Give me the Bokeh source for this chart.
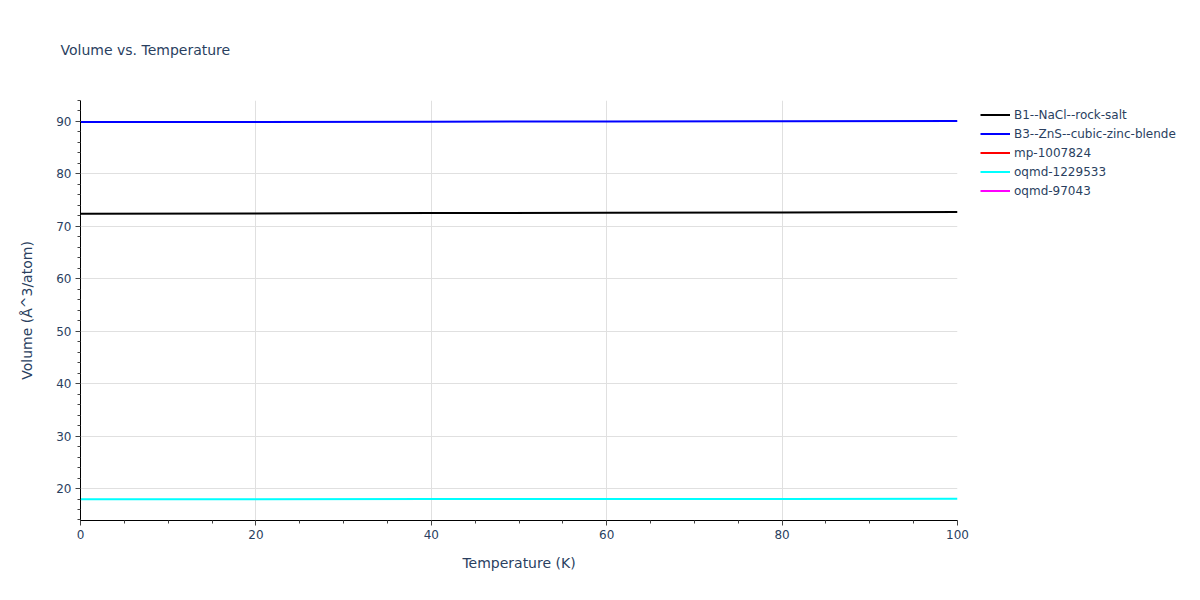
from bokeh.plotting import figure
from bokeh.models import Legend, SingleIntervalTicker, Range1d
from bokeh.embed import file_html
from bokeh.resources import INLINE

nan = float("nan")

# ---- data ----
temperature = [0, 20, 40, 60, 80, 100]
b1_nacl_rock_salt = [72.40, 72.47, 72.53, 72.60, 72.66, 72.73]
b3_zns_zinc_blende = [89.88, 89.92, 89.96, 89.99, 90.03, 90.07]
mp_1007824 = [nan]          # not visible in the plotted range
oqmd_1229533 = [17.96, 17.97, 17.99, 18.00, 18.02, 18.03]
oqmd_97043 = [nan]          # not visible in the plotted range

series_names = ["B1--NaCl--rock-salt", "B3--ZnS--cubic-zinc-blende",
                "mp-1007824", "oqmd-1229533", "oqmd-97043"]
series_colors = ["black", "blue", "red", "cyan", "magenta"]

FONT = "DejaVu Sans"
TXT = "#2a3f5f"

p = figure(frame_width=877, frame_height=420, output_backend="svg",
           toolbar_location=None,
           x_range=Range1d(0, 100), y_range=Range1d(13.9, 94.0),
           min_border_left=80, min_border_right=243, min_border_top=100,
           min_border_bottom=80)
p.outline_line_color = None
p.background_fill_color = "white"
p.border_fill_color = "white"

p.title.text = "Volume vs. Temperature"
p.title.align = "left"
p.title.vertical_align = "top"
p.title.offset = -20
p.title.standoff = 82
p.title.text_font = FONT
p.title.text_font_size = "14px"
p.title.text_font_style = "normal"
p.title.text_color = TXT

ys_list = [b1_nacl_rock_salt, b3_zns_zinc_blende, mp_1007824, oqmd_1229533, oqmd_97043]
renderers = []
for name, color, ys in zip(series_names, series_colors, ys_list):
    xs = temperature[:len(ys)]
    r = p.line(xs, ys, line_color=color, line_width=2)
    renderers.append((name, [r]))

legend = Legend(items=renderers, location=(23, 320), orientation="vertical")
legend.background_fill_alpha = 0
legend.border_line_color = None
legend.padding = 0
legend.margin = 0
legend.spacing = 0
legend.glyph_width = 30
legend.glyph_height = 19
legend.label_height = 19
legend.label_standoff = 4
legend.label_text_font = FONT
legend.label_text_font_size = "12px"
legend.label_text_color = TXT
p.add_layout(legend, "right")

# axes
p.xaxis.ticker = SingleIntervalTicker(interval=20, num_minor_ticks=4)
p.yaxis.ticker = SingleIntervalTicker(interval=10, num_minor_ticks=5)
for ax in (p.xaxis, p.yaxis):
    ax.axis_line_color = "black"
    ax.axis_line_width = 1
    ax.major_tick_line_color = "#444444"
    ax.minor_tick_line_color = "#444444"
    ax.major_tick_out = 5
    ax.major_tick_in = 0
    ax.minor_tick_out = 3
    ax.minor_tick_in = 0
    ax.major_label_text_font = FONT
    ax.major_label_text_font_size = "12px"
    ax.major_label_text_color = TXT
    ax.axis_label_text_font = FONT
    ax.axis_label_text_font_size = "14px"
    ax.axis_label_text_color = TXT
    ax.axis_label_text_font_style = "normal"
    ax.major_label_standoff = 4
p.xaxis.axis_label = "Temperature (K)"
p.yaxis.axis_label = "Volume (Å^3/atom)"
p.xaxis.axis_label_standoff = 13
p.yaxis.axis_label_standoff = 18

p.xgrid.grid_line_color = "#e0e0e0"
p.ygrid.grid_line_color = "#e0e0e0"
p.xgrid.grid_line_width = 1
p.ygrid.grid_line_width = 1

open("out.html", "w").write(file_html(p, INLINE))
